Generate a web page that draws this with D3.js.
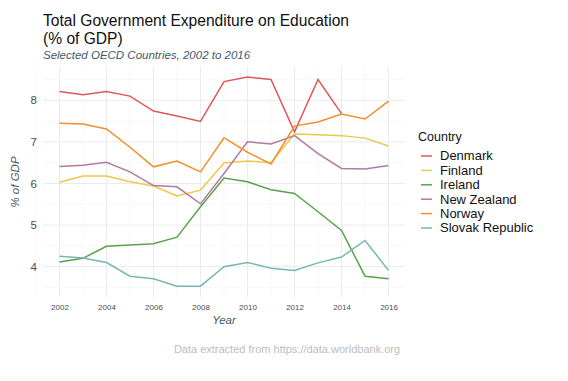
<!DOCTYPE html>
<html><head><meta charset="utf-8">
<script src="https://cdn.jsdelivr.net/npm/d3@7"></script>
<style>body{margin:0;background:#fff;font-family:"Liberation Sans",Arial,sans-serif;}</style>
</head><body><svg id="c" width="568" height="381"></svg>
<script>
const years = [2002,2003,2004,2005,2006,2007,2008,2009,2010,2011,2012,2013,2014,2015,2016];
const countries = ["Denmark","Finland","Ireland","New Zealand","Norway","Slovak Republic"];
const colors = ["#E15759","#EDC948","#59A14F","#B07AA1","#F28E2B","#76B7B2"];
const denmark = [8.21,8.13,8.21,8.10,7.74,7.62,7.49,8.45,8.56,8.50,7.24,8.50,7.68,null,null];
const finland = [6.03,6.18,6.18,6.04,5.94,5.70,5.84,6.49,6.54,6.50,7.19,7.17,7.15,7.09,6.90];
const ireland = [4.11,4.20,4.49,4.52,4.55,4.71,5.44,6.13,6.04,5.85,5.76,5.32,4.87,3.77,3.71];
const newZealand = [6.41,6.44,6.51,6.28,5.95,5.92,5.51,6.24,7.00,6.95,7.15,6.72,6.36,6.35,6.43];
const norway = [7.45,7.43,7.31,6.87,6.40,6.54,6.28,7.10,6.75,6.47,7.38,7.48,7.67,7.55,7.98];
const slovak = [4.25,4.21,4.10,3.77,3.71,3.53,3.53,4.00,4.10,3.96,3.91,4.09,4.23,4.63,3.91];
const seriesValues = [denmark,finland,ireland,newZealand,norway,slovak];
const yTicks = [4,5,6,7,8];
const xTicks = [2002,2004,2006,2008,2010,2012,2014,2016];

const svg = d3.select("#c");
const L = 43, R = 405, T = 67, B = 297;
const x = d3.scaleLinear().domain([2001.3,2016.7]).range([L,R]);
const y = d3.scaleLinear().domain([3.27,8.8]).range([B,T]);

// grid
const g = svg.append("g");
d3.range(2001,2017,1).filter(v=>v%2===1).forEach(v=>{
  g.append("line").attr("x1",x(v)).attr("x2",x(v)).attr("y1",T).attr("y2",B).attr("stroke","#f3f3f3").attr("stroke-width",0.6);
});
[3.5,4.5,5.5,6.5,7.5,8.5].forEach(v=>{
  g.append("line").attr("x1",L).attr("x2",R).attr("y1",y(v)).attr("y2",y(v)).attr("stroke","#f3f3f3").attr("stroke-width",0.6);
});
xTicks.forEach(v=>{
  g.append("line").attr("x1",x(v)).attr("x2",x(v)).attr("y1",T).attr("y2",B).attr("stroke","#ebebeb").attr("stroke-width",1);
});
yTicks.forEach(v=>{
  g.append("line").attr("x1",L).attr("x2",R).attr("y1",y(v)).attr("y2",y(v)).attr("stroke","#ebebeb").attr("stroke-width",1);
});

// axes
const xa = svg.append("g").attr("transform",`translate(0,${B})`).call(d3.axisBottom(x).tickValues(xTicks).tickFormat(d3.format("d")).tickSize(0).tickPadding(7));
xa.select(".domain").remove();
xa.selectAll("text").attr("font-size",8).attr("fill","#4d4d4d").attr("font-family","Liberation Sans, Arial, sans-serif");
const ya = svg.append("g").attr("transform",`translate(${L},0)`).call(d3.axisLeft(y).tickValues(yTicks).tickFormat(d3.format("d")).tickSize(0).tickPadding(6));
ya.select(".domain").remove();
ya.selectAll("text").attr("font-size",11.5).attr("fill","#4d4d4d").attr("font-family","Liberation Sans, Arial, sans-serif");

// lines
const line = d3.line().defined(d=>d[1]!=null).x(d=>x(d[0])).y(d=>y(d[1]));
seriesValues.forEach((vals,i)=>{
  svg.append("path").datum(years.map((yr,j)=>[yr,vals[j]]))
    .attr("d",line).attr("fill","none").attr("stroke",colors[i]).attr("stroke-width",1.5);
});

// titles
const slate = "#3f5a68";
svg.append("text").attr("x",43).attr("y",26).attr("font-size",15.6).attr("fill","#111").text("Total Government Expenditure on Education");
svg.append("text").attr("x",43).attr("y",44).attr("font-size",15.6).attr("fill","#111").text("(% of GDP)");
svg.append("text").attr("x",43).attr("y",59).attr("font-size",11.5).attr("font-style","italic").attr("fill",slate).text("Selected OECD Countries, 2002 to 2016");
svg.append("text").attr("transform",`translate(19,${(T+B)/2}) rotate(-90)`).attr("text-anchor","middle").attr("font-size",11.5).attr("font-style","italic").attr("fill",slate).text("% of GDP");
svg.append("text").attr("x",(L+R)/2).attr("y",324).attr("text-anchor","middle").attr("font-size",11.5).attr("font-style","italic").attr("fill",slate).text("Year");
svg.append("text").attr("x",287).attr("y",353).attr("text-anchor","middle").attr("font-size",11).attr("fill","#bdbdbd").text("Data extracted from https://data.worldbank.org");

// legend
const lg = svg.append("g");
lg.append("text").attr("x",418).attr("y",141).attr("font-size",12.5).attr("fill","#111").text("Country");
countries.forEach((c,i)=>{
  const yy = 156 + i*14.4;
  lg.append("line").attr("x1",421).attr("x2",432).attr("y1",yy).attr("y2",yy).attr("stroke",colors[i]).attr("stroke-width",1.5);
  lg.append("text").attr("x",440).attr("y",yy+4.4).attr("font-size",13).attr("fill","#111").text(c);
});
</script></body></html>
